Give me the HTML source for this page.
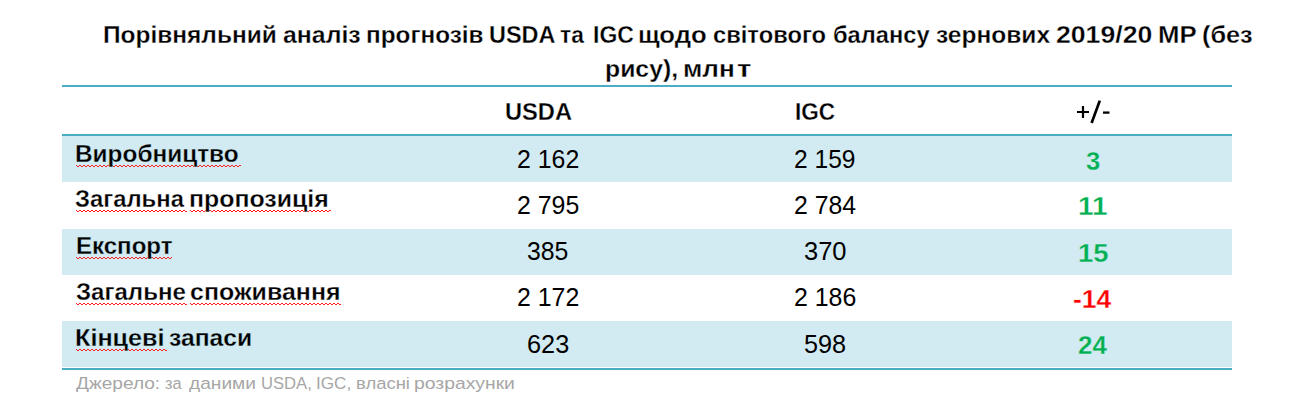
<!DOCTYPE html><html><head><meta charset="utf-8"><style>
html,body{margin:0;padding:0;background:#fff;}
body{width:1299px;height:417px;position:relative;overflow:hidden;font-family:"Liberation Sans", sans-serif;}
.t{position:absolute;white-space:nowrap;line-height:1;transform-origin:0 0;}
.rule{position:absolute;left:62px;width:1170px;height:2px;background:#4BACC6;}
.band{position:absolute;left:62px;width:1170px;background:#D2EAF1;}
.zz{position:absolute;height:2px;background:repeating-linear-gradient(to right,#FF1E1E 0 1px,transparent 1px 3px,#FF1E1E 3px 4px) 0 0/100% 1px no-repeat,repeating-linear-gradient(to right,transparent 0 1px,#FF1E1E 1px 3px,transparent 3px 4px) 0 1px/100% 1px no-repeat;}
</style></head><body>
<div class="band" style="top:136px;height:46px"></div>
<div class="band" style="top:229px;height:46px"></div>
<div class="band" style="top:321px;height:46px"></div>
<div class="rule" style="top:85px"></div>
<div class="rule" style="top:134px"></div>
<div class="rule" style="top:368px"></div>
<div class="zz" style="left:76px;top:165px;width:165px"></div>
<div class="zz" style="left:76px;top:210px;width:111px"></div>
<div class="zz" style="left:190px;top:210px;width:141px"></div>
<div class="zz" style="left:76px;top:257px;width:96px"></div>
<div class="zz" style="left:76px;top:303px;width:111px"></div>
<div class="zz" style="left:190px;top:303px;width:151px"></div>
<div class="zz" style="left:76px;top:349px;width:91px"></div>
<div class="t" style="left:103.28px;top:22.82px;font-size:24.50px;font-weight:bold;color:#000;-webkit-text-stroke:0.3px #fff;transform:scaleX(0.9987)">Порівняльний</div>
<div class="t" style="left:283.28px;top:22.82px;font-size:24.50px;font-weight:bold;color:#000;-webkit-text-stroke:0.3px #fff;transform:scaleX(1.0139)">аналіз</div>
<div class="t" style="left:365.60px;top:22.82px;font-size:24.50px;font-weight:bold;color:#000;-webkit-text-stroke:0.3px #fff;transform:scaleX(0.9923)">прогнозів</div>
<div class="t" style="left:489.25px;top:22.82px;font-size:24.50px;font-weight:bold;color:#000;-webkit-text-stroke:0.3px #fff;transform:scaleX(0.9570)">USDA</div>
<div class="t" style="left:560.29px;top:22.82px;font-size:24.50px;font-weight:bold;color:#000;-webkit-text-stroke:0.3px #fff;transform:scaleX(0.9297)">та</div>
<div class="t" style="left:593.03px;top:22.82px;font-size:24.50px;font-weight:bold;color:#000;-webkit-text-stroke:0.3px #fff;transform:scaleX(0.9379)">IGC</div>
<div class="t" style="left:638.48px;top:22.82px;font-size:24.50px;font-weight:bold;color:#000;-webkit-text-stroke:0.3px #fff;transform:scaleX(1.0468)">щодо</div>
<div class="t" style="left:713.32px;top:22.82px;font-size:24.50px;font-weight:bold;color:#000;-webkit-text-stroke:0.3px #fff;transform:scaleX(0.9679)">світового</div>
<div class="t" style="left:833.32px;top:22.82px;font-size:24.50px;font-weight:bold;color:#000;-webkit-text-stroke:0.3px #fff;transform:scaleX(0.9660)">балансу</div>
<div class="t" style="left:935.99px;top:22.82px;font-size:24.50px;font-weight:bold;color:#000;-webkit-text-stroke:0.3px #fff;transform:scaleX(1.0012)">зернових</div>
<div class="t" style="left:1055.90px;top:22.82px;font-size:24.50px;font-weight:bold;color:#000;-webkit-text-stroke:0.3px #fff;transform:scaleX(1.0869)">2019/20</div>
<div class="t" style="left:1157.76px;top:22.82px;font-size:24.50px;font-weight:bold;color:#000;-webkit-text-stroke:0.3px #fff;transform:scaleX(1.0506)">МР</div>
<div class="t" style="left:1202.34px;top:22.82px;font-size:24.50px;font-weight:bold;color:#000;-webkit-text-stroke:0.3px #fff;transform:scaleX(1.0308)">(без</div>
<div class="t" style="left:605.15px;top:56.71px;font-size:24.50px;font-weight:bold;color:#000;-webkit-text-stroke:0.3px #fff;transform:scaleX(1.0115)">рису),</div>
<div class="t" style="left:682.85px;top:56.71px;font-size:24.50px;font-weight:bold;color:#000;-webkit-text-stroke:0.3px #fff;transform:scaleX(1.0663)">млн</div>
<div class="t" style="left:737.19px;top:56.71px;font-size:24.50px;font-weight:bold;color:#000;-webkit-text-stroke:0.3px #fff;transform:scaleX(1.1975)">т</div>
<div class="t" style="left:505.21px;top:100.00px;font-size:24.50px;font-weight:bold;color:#000;-webkit-text-stroke:0.3px #fff;transform:scaleX(0.9654)">USDA</div>
<div class="t" style="left:794.63px;top:99.82px;font-size:24.50px;font-weight:bold;color:#000;-webkit-text-stroke:0.3px #fff;transform:scaleX(0.9207)">IGC</div>
<svg style="position:absolute;left:0;top:0" width="1299" height="417" viewBox="0 0 1299 417"><path d="M1077 112H1089M1083 106V118" stroke="#000" stroke-width="2.2" fill="none"/><path d="M1091.6 123L1099.8 100.6" stroke="#000" stroke-width="2.7" fill="none"/><path d="M1103 112.6H1109.5" stroke="#000" stroke-width="2.3" fill="none"/></svg>
<div class="t" style="left:75.21px;top:142.00px;font-size:24.50px;font-weight:bold;color:#000;-webkit-text-stroke:0.3px #D2EAF1;transform:scaleX(0.9951)">Виробництво</div>
<div class="t" style="left:75.41px;top:187.00px;font-size:24.50px;font-weight:bold;color:#000;-webkit-text-stroke:0.3px #fff;transform:scaleX(0.9740)">Загальна</div>
<div class="t" style="left:189.14px;top:187.00px;font-size:24.50px;font-weight:bold;color:#000;-webkit-text-stroke:0.3px #fff;transform:scaleX(1.0155)">пропозиція</div>
<div class="t" style="left:76.00px;top:234.00px;font-size:24.50px;font-weight:bold;color:#000;-webkit-text-stroke:0.3px #D2EAF1;transform:scaleX(0.9813)">Експорт</div>
<div class="t" style="left:75.51px;top:280.00px;font-size:24.50px;font-weight:bold;color:#000;-webkit-text-stroke:0.3px #fff;transform:scaleX(0.9822)">Загальне</div>
<div class="t" style="left:190.27px;top:280.00px;font-size:24.50px;font-weight:bold;color:#000;-webkit-text-stroke:0.3px #fff;transform:scaleX(1.0189)">споживання</div>
<div class="t" style="left:75.42px;top:326.00px;font-size:24.50px;font-weight:bold;color:#000;-webkit-text-stroke:0.3px #D2EAF1;transform:scaleX(1.0284)">Кінцеві</div>
<div class="t" style="left:168.89px;top:326.00px;font-size:24.50px;font-weight:bold;color:#000;-webkit-text-stroke:0.3px #D2EAF1;transform:scaleX(1.0072)">запаси</div>
<div class="t" style="left:517.00px;top:147.00px;font-size:25.30px;font-weight:normal;color:#000;transform:scaleX(0.9836)">2 162</div>
<div class="t" style="left:794.00px;top:147.00px;font-size:25.30px;font-weight:normal;color:#000;transform:scaleX(0.9707)">2 159</div>
<div class="t" style="left:1086.10px;top:147.71px;font-size:26.50px;font-weight:bold;color:#00B050;-webkit-text-stroke:0.3px #D2EAF1;transform:scaleX(0.9677)">3</div>
<div class="t" style="left:517.00px;top:193.00px;font-size:25.30px;font-weight:normal;color:#000;transform:scaleX(0.9836)">2 795</div>
<div class="t" style="left:794.00px;top:193.00px;font-size:25.30px;font-weight:normal;color:#000;transform:scaleX(0.9793)">2 784</div>
<div class="t" style="left:1077.91px;top:192.80px;font-size:26.50px;font-weight:bold;color:#00B050;-webkit-text-stroke:0.3px #fff;transform:scaleX(1.0474)">11</div>
<div class="t" style="left:527.30px;top:239.00px;font-size:25.30px;font-weight:normal;color:#000;transform:scaleX(0.9804)">385</div>
<div class="t" style="left:804.28px;top:239.00px;font-size:25.30px;font-weight:normal;color:#000;transform:scaleX(1.0080)">370</div>
<div class="t" style="left:1077.93px;top:239.71px;font-size:26.50px;font-weight:bold;color:#00B050;-webkit-text-stroke:0.3px #D2EAF1;transform:scaleX(1.0285)">15</div>
<div class="t" style="left:517.00px;top:285.00px;font-size:25.30px;font-weight:normal;color:#000;transform:scaleX(0.9836)">2 172</div>
<div class="t" style="left:794.00px;top:285.00px;font-size:25.30px;font-weight:normal;color:#000;transform:scaleX(0.9836)">2 186</div>
<div class="t" style="left:1073.18px;top:286.21px;font-size:26.50px;font-weight:bold;color:#FF0000;-webkit-text-stroke:0.3px #fff;transform:scaleX(0.9976)">-14</div>
<div class="t" style="left:527.00px;top:331.50px;font-size:25.30px;font-weight:normal;color:#000;transform:scaleX(1.0000)">623</div>
<div class="t" style="left:803.62px;top:331.50px;font-size:25.30px;font-weight:normal;color:#000;transform:scaleX(0.9978)">598</div>
<div class="t" style="left:1078.39px;top:332.01px;font-size:26.50px;font-weight:bold;color:#00B050;-webkit-text-stroke:0.3px #D2EAF1;transform:scaleX(0.9773)">24</div>
<div class="t" style="left:76.41px;top:374.61px;font-size:17.10px;font-weight:normal;color:#A6A6A6;transform:scaleX(1.1161)">Джерело:</div>
<div class="t" style="left:164.67px;top:374.61px;font-size:17.10px;font-weight:normal;color:#A6A6A6;transform:scaleX(0.9561)">за</div>
<div class="t" style="left:188.82px;top:374.61px;font-size:17.10px;font-weight:normal;color:#A6A6A6;transform:scaleX(1.1201)">даними</div>
<div class="t" style="left:261.17px;top:374.61px;font-size:17.10px;font-weight:normal;color:#A6A6A6;transform:scaleX(0.9723)">USDA,</div>
<div class="t" style="left:315.91px;top:374.61px;font-size:17.10px;font-weight:normal;color:#A6A6A6;transform:scaleX(1.0003)">IGC,</div>
<div class="t" style="left:355.59px;top:374.61px;font-size:17.10px;font-weight:normal;color:#A6A6A6;transform:scaleX(1.0801)">власні</div>
<div class="t" style="left:414.06px;top:374.61px;font-size:17.10px;font-weight:normal;color:#A6A6A6;transform:scaleX(1.1306)">розрахунки</div>
</body></html>
